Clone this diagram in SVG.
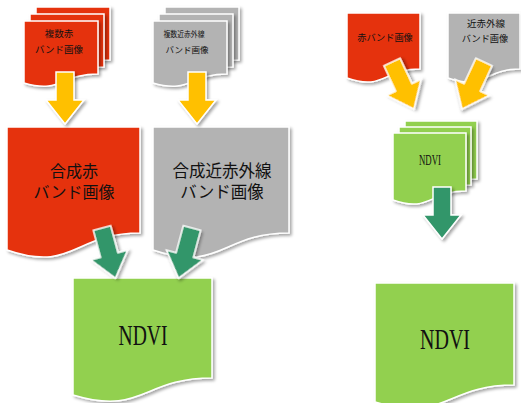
<svg xmlns="http://www.w3.org/2000/svg" width="521" height="403" viewBox="0 0 521 403">
<defs>
<filter id="sh" x="-20%" y="-20%" width="140%" height="140%">
<feDropShadow dx="2" dy="2" stdDeviation="1.5" flood-color="#000" flood-opacity="0.35"/>
</filter>
<path id="arr" d="M-9,0 H9 V28 H19 L0,52 L-19,28 H-9 Z"/>
</defs>
<style>
.doc{stroke:#fff;stroke-width:1.5;filter:url(#sh)}
.red{fill:#E5330F}
.gray{fill:#B3B3B3}
.grn{fill:#92D050}
.ya{fill:#FFC000;stroke:#fff;stroke-width:1.5;filter:url(#sh)}
.ga{fill:#33966A;stroke:#fff;stroke-width:1.5;filter:url(#sh)}
text{font-family:"Liberation Serif","Noto Sans CJK JP",serif;fill:#111;text-anchor:middle}
</style>
<rect width="521" height="403" fill="#fff"/>

<g id="multi-red">
<path class="doc red" d="M36,7 H110 V60 C73,60 73,80 36,69 Z"/>
<path class="doc red" d="M30,14 H104 V67 C67,67 67,87 30,76 Z"/>
<path class="doc red" d="M24,21 H98 V74 C61,74 61,94 24,83 Z"/>
<text x="59" y="37" font-size="9.5">複数赤</text>
<text x="59" y="53" font-size="9.5">バンド画像</text>
</g>

<g id="multi-gray">
<path class="doc gray" d="M165,7 H239 V60 C202,60 202,80 165,69 Z"/>
<path class="doc gray" d="M159,14 H233 V67 C196,67 196,87 159,76 Z"/>
<path class="doc gray" d="M153,21 H227 V74 C190,74 190,94 153,83 Z"/>
<text x="184" y="37" font-size="8" textLength="41" lengthAdjust="spacingAndGlyphs">複数近赤外線</text>
<text x="187" y="53" font-size="8.5">バンド画像</text>
</g>

<g id="synth-red">
<path class="doc red" d="M7,127 H140 V233 C73.5,233 73.5,273 7,250 Z"/>
<text x="74" y="177" font-size="16">合成赤</text>
<text x="74" y="198" font-size="16">バンド画像</text>
</g>

<g id="synth-gray">
<path class="doc gray" d="M153,127 H289 V233 C221,233 221,273 153,250 Z"/>
<text x="222" y="177" font-size="16.5">合成近赤外線</text>
<text x="222" y="198" font-size="16.5">バンド画像</text>
</g>

<g id="ndvi-left">
<path class="doc grn" d="M73,278 H212 V378 C142.5,378 142.5,416 73,395 Z"/>
<text x="143" y="345" font-size="30" textLength="49" lengthAdjust="spacingAndGlyphs">NDVI</text>
</g>

<g id="red-band">
<path class="doc red" d="M347,13 H420 V69 C383.5,69 383.5,91 347,78 Z"/>
<text x="385" y="41" font-size="9.2">赤バンド画像</text>
</g>

<g id="nir-band">
<path class="doc gray" d="M448,13 H520 V69 C484,69 484,91 448,78 Z"/>
<text x="486" y="27" font-size="9.5">近赤外線</text>
<text x="485" y="42" font-size="9.2">バンド画像</text>
</g>

<g id="multi-ndvi">
<path class="doc grn" d="M405,121 H477 V179 C441,179 441,201 405,188 Z"/>
<path class="doc grn" d="M399,127 H471 V185 C435,185 435,207 399,194 Z"/>
<path class="doc grn" d="M393,133 H466 V191 C429.5,191 429.5,213 393,200 Z"/>
<text x="430" y="165" font-size="14" textLength="22" lengthAdjust="spacingAndGlyphs">NDVI</text>
</g>

<g id="ndvi-right">
<path class="doc grn" d="M375,283 H514 V385 C444.5,385 444.5,424 375,402 Z"/>
<text x="445" y="349" font-size="30" textLength="50" lengthAdjust="spacingAndGlyphs">NDVI</text>
</g>

<g id="connectors">
<use href="#arr" class="ya" transform="translate(65,72)"/>
<use href="#arr" class="ya" transform="translate(197,72)"/>
<use href="#arr" class="ga" transform="translate(102,228) rotate(-15)"/>
<use href="#arr" class="ga" transform="translate(192,228) rotate(15)"/>
<use href="#arr" class="ya" transform="translate(392,62) rotate(-25)"/>
<use href="#arr" class="ya" transform="translate(484,62) rotate(25)"/>
<use href="#arr" class="ga" transform="translate(442,187)"/>
</g>
</svg>
